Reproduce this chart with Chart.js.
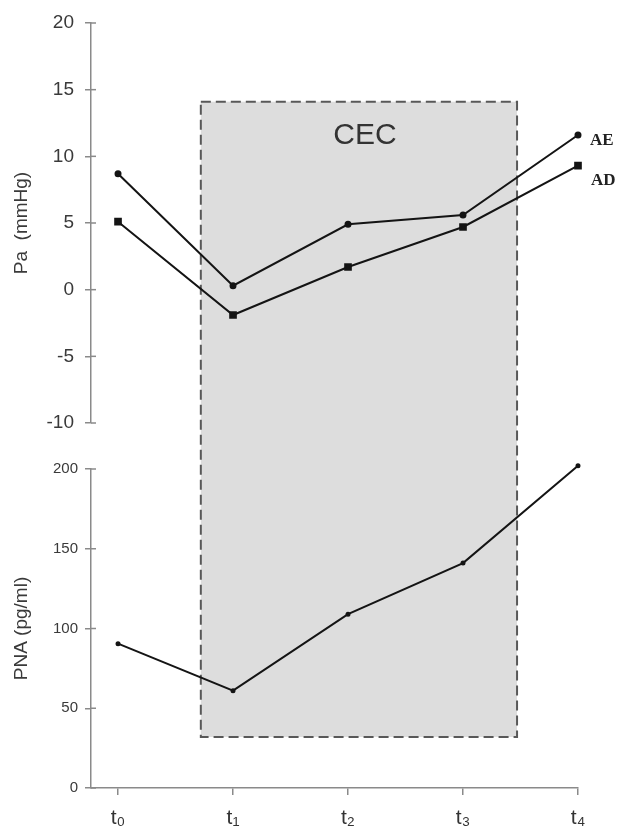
<!DOCTYPE html>
<html>
<head>
<meta charset="utf-8">
<script src="https://cdn.jsdelivr.net/npm/chart.js@4.4.1/dist/chart.umd.min.js"></script>
<style>
  html, body { margin: 0; padding: 0; background: #fff; }
  #wrap { position: relative; width: 621px; height: 838px; }
</style>
</head>
<body>
<div id="wrap"><canvas id="chart" width="621" height="838"></canvas></div>
<script>
const timeLabels = ['t\u2080', 't\u2081', 't\u2082', 't\u2083', 't\u2084'];
const paAE = [8.7, 0.3, 4.9, 5.6, 11.6];
const paAD = [5.1, -1.9, 1.7, 4.7, 9.3];
const pna = [90.5, 61, 109, 141, 202];

const paTicks = [-10, -5, 0, 5, 10, 15, 20];
const pnaTicks = [0, 50, 100, 150, 200];

// CEC period, in axis units
const cecFrom = 0.72;
const cecTo = 3.47;
const cecPaTop = 14.1;
const cecPnaBottom = 32;

const AXIS_COLOR = '#8a8a8a';
const LINE_COLOR = '#141414';

function toPoints(values) {
  return values.map((v, i) => ({ x: i, y: v }));
}

const cecBox = {
  id: 'cecBox',
  beforeDatasetsDraw(chart) {
    const { ctx, scales } = chart;
    const left = scales.x.getPixelForValue(cecFrom);
    const right = scales.x.getPixelForValue(cecTo);
    const top = scales.pa.getPixelForValue(cecPaTop);
    const bottom = scales.pna.getPixelForValue(cecPnaBottom);
    ctx.save();
    ctx.fillStyle = '#dddddd';
    ctx.fillRect(left, top, right - left, bottom - top);
    ctx.setLineDash([10, 5]);
    ctx.lineWidth = 2;
    ctx.strokeStyle = '#585858';
    ctx.strokeRect(left, top, right - left, bottom - top);
    ctx.setLineDash([]);
    ctx.fillStyle = '#333';
    ctx.font = '30px "Liberation Sans", Arial, sans-serif';
    ctx.textAlign = 'center';
    ctx.textBaseline = 'middle';
    ctx.fillText('CEC', (left + right) / 2 + 6, top + 34);
    ctx.restore();
  },
};

const axisExtras = {
  id: 'axisExtras',
  afterDraw(chart) {
    const { ctx, scales } = chart;
    ctx.save();
    ctx.strokeStyle = AXIS_COLOR;
    ctx.lineWidth = 1.5;
    ['pa', 'pna'].forEach((id) => {
      const s = scales[id];
      s.ticks.forEach((t) => {
        const y = s.getPixelForValue(t.value);
        ctx.beginPath();
        ctx.moveTo(s.right, y);
        ctx.lineTo(s.right + 5, y);
        ctx.stroke();
      });
    });
    // series names at the last point
    const meta = [chart.getDatasetMeta(0), chart.getDatasetMeta(1)];
    ctx.fillStyle = '#222';
    ctx.font = 'bold 17px "Liberation Serif", "Times New Roman", serif';
    ctx.textAlign = 'left';
    ctx.textBaseline = 'middle';
    const ae = meta[0].data[meta[0].data.length - 1];
    const ad = meta[1].data[meta[1].data.length - 1];
    ctx.fillText('AE', ae.x + 12, ae.y + 6);
    ctx.fillText('AD', ad.x + 13, ad.y + 15);
    ctx.restore();
  },
};

function fixedWidth(scale) {
  scale.width = 91;
}

new Chart(document.getElementById('chart'), {
  type: 'line',
  data: {
    datasets: [
      {
        label: 'AE',
        data: toPoints(paAE),
        yAxisID: 'pa',
        borderColor: LINE_COLOR,
        backgroundColor: LINE_COLOR,
        borderWidth: 2,
        pointStyle: 'circle',
        pointRadius: 2.5,
        clip: false,
      },
      {
        label: 'AD',
        data: toPoints(paAD),
        yAxisID: 'pa',
        borderColor: LINE_COLOR,
        backgroundColor: LINE_COLOR,
        borderWidth: 2,
        pointStyle: 'rect',
        pointRadius: 4,
        clip: false,
      },
      {
        label: 'PNA',
        data: toPoints(pna),
        yAxisID: 'pna',
        borderColor: LINE_COLOR,
        backgroundColor: LINE_COLOR,
        borderWidth: 2,
        pointRadius: 1.5,
        clip: false,
      },
    ],
  },
  options: {
    responsive: false,
    animation: false,
    layout: { padding: { top: 23, right: 43, bottom: 0, left: 0 } },
    plugins: { legend: { display: false }, tooltip: { enabled: false } },
    scales: {
      x: {
        type: 'linear',
        min: -0.235,
        max: 4,
        afterBuildTicks(scale) {
          scale.ticks = timeLabels.map((_, i) => ({ value: i }));
        },
        afterFit(scale) {
          scale.height = 50;
        },
        ticks: {
          callback: (value) => timeLabels[value],
          color: '#333',
          font: { size: 21, family: '"Liberation Sans", Arial, sans-serif' },
          padding: 11,
          maxRotation: 0,
        },
        grid: { drawOnChartArea: false, tickLength: 7, color: AXIS_COLOR, lineWidth: 1.5 },
        border: { color: AXIS_COLOR, width: 1.5 },
      },
      // stacked left axes are laid out last-first, so the bottom panel comes first here
      pna: {
        type: 'linear',
        position: 'left',
        stack: 'v',
        stackWeight: 319,
        min: 0,
        max: 200,
        afterFit: fixedWidth,
        afterBuildTicks(scale) {
          scale.ticks = pnaTicks.map((v) => ({ value: v }));
        },
        ticks: {
          color: '#3a3a3a',
          font: { size: 15, family: '"Liberation Sans", Arial, sans-serif' },
          padding: 7,
        },
        grid: { drawOnChartArea: false, tickLength: 6, color: AXIS_COLOR, lineWidth: 1.5 },
        border: { color: AXIS_COLOR, width: 1.5 },
        title: {
          display: true,
          text: 'PNA (pg/ml)',
          color: '#3a3a3a',
          font: { size: 19, family: '"Liberation Sans", Arial, sans-serif' },
          padding: { top: 10, bottom: 0 },
        },
      },
      gap: {
        type: 'linear',
        position: 'left',
        stack: 'v',
        stackWeight: 46,
        min: 0,
        max: 1,
        afterFit: fixedWidth,
        ticks: { display: false },
        grid: { display: false },
        border: { display: false },
      },
      pa: {
        type: 'linear',
        position: 'left',
        stack: 'v',
        stackWeight: 400,
        min: -10,
        max: 20,
        afterFit: fixedWidth,
        afterBuildTicks(scale) {
          scale.ticks = paTicks.map((v) => ({ value: v }));
        },
        ticks: {
          color: '#3a3a3a',
          font: { size: 19, family: '"Liberation Sans", Arial, sans-serif' },
          padding: 11,
        },
        grid: { drawOnChartArea: false, tickLength: 6, color: AXIS_COLOR, lineWidth: 1.5 },
        border: { color: AXIS_COLOR, width: 1.5 },
        title: {
          display: true,
          text: 'Pa  (mmHg)',
          color: '#3a3a3a',
          font: { size: 19, family: '"Liberation Sans", Arial, sans-serif' },
          padding: { top: 10, bottom: 0 },
        },
      },
    },
  },
  plugins: [cecBox, axisExtras],
});
</script>
</body>
</html>
